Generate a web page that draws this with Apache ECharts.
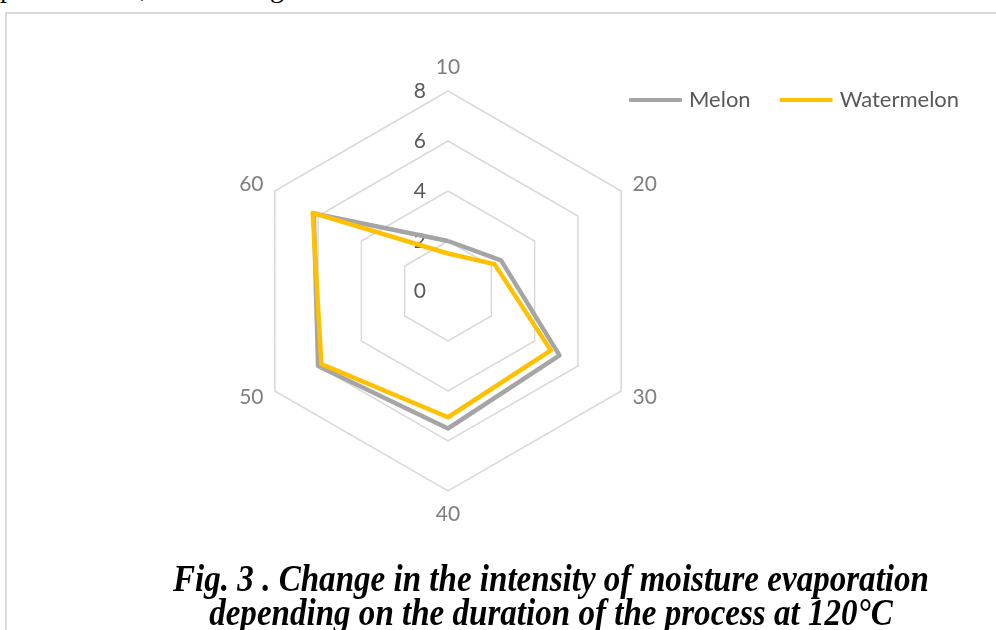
<!DOCTYPE html>
<html>
<head>
<meta charset="utf-8">
<script src="https://cdn.jsdelivr.net/npm/echarts@6/dist/echarts.min.js"></script>
<style>
  html, body { margin: 0; padding: 0; background: #fff; }
  #page { position: relative; width: 996px; height: 630px; overflow: hidden; }
  #frame { position: absolute; left: 5px; top: 12px; width: 1000px; height: 700px;
           border-left: 2px solid #d9d9d9; border-top: 2px solid #d9d9d9; }
  #chart { position: absolute; left: 0; top: 0; width: 996px; height: 630px; }
  #cut { position: absolute; left: 0; top: 0; width: 996px; height: 8px; overflow: hidden;
         font-family: "Liberation Serif", serif; font-size: 28px; color: #000; }
  #cut span { position: absolute; top: -28px; }
  #caption { position: absolute; left: 0; width: 1102px; top: 561px; text-align: center;
             font-family: "Liberation Serif", serif; font-weight: bold; font-style: italic;
             font-size: 38px; line-height: 34px; color: #000;
             transform: scaleX(0.87); transform-origin: 551px 0; }
</style>
</head>
<body>
<div id="page">
  <div id="cut"><span style="left:0px">p</span><span style="left:140px">,</span><span style="left:270px">g</span></div>
  <div id="frame"></div>
  <div id="chart"></div>
  <div id="caption">Fig. 3 . Change in the intensity of moisture evaporation<br>depending on the duration of the process at 120°C</div>
</div>
<script>
const durations = ['10', '20', '30', '40', '50', '60']
const melon = [2.0, 2.45, 5.15, 5.5, 6.0, 6.2]
const watermelon = [1.5, 2.15, 4.75, 5.05, 5.85, 6.25]
const axisMax = 8

// echarts radar runs counter-clockwise, the Excel one clockwise:
// keep the first category on top and walk the rest backwards
const order = [0, 5, 4, 3, 2, 1]
const pick = (arr) => order.map((i) => arr[i])

const chart = echarts.init(document.getElementById('chart'), null, { renderer: 'canvas' })

const indicator = pick(durations).map((name, i) => ({
  name,
  min: 0,
  max: axisMax,
  // value labels only on the top spoke
  axisLabel: i === 0
    ? { show: true, margin: 22, color: '#595959', fontSize: 21, fontFamily: 'Lato', showMinLabel: true, showMaxLabel: true }
    : { show: false },
}))

chart.setOption({
  animation: false,
  legend: {
    data: ['Melon', 'Watermelon'],
    left: 624,
    top: 84,
    itemWidth: 53,
    itemHeight: 4,
    itemGap: 29,
    icon: 'roundRect',
    textStyle: { color: '#595959', fontSize: 22, fontFamily: 'Lato', padding: [0, 0, 0, 2] },
  },
  radar: {
    center: [448, 291],
    radius: 200,
    startAngle: 90,
    splitNumber: 4,
    shape: 'polygon',
    indicator,
    nameGap: 13,
    axisName: { color: '#7f7f7f', fontSize: 21, fontFamily: 'Lato' },
    axisLine: { show: false },
    axisTick: { show: false },
    splitArea: { show: false },
    splitLine: { lineStyle: { color: '#d9d9d9', width: 1.5 } },
  },
  series: [
    {
      type: 'radar',
      symbol: 'none',
      data: [
        { name: 'Melon', value: pick(melon), lineStyle: { color: '#a5a5a5', width: 4.5 }, itemStyle: { color: '#a5a5a5' } },
        { name: 'Watermelon', value: pick(watermelon), lineStyle: { color: '#ffc000', width: 4.5 }, itemStyle: { color: '#ffc000' } },
      ],
    },
  ],
})
</script>
</body>
</html>
